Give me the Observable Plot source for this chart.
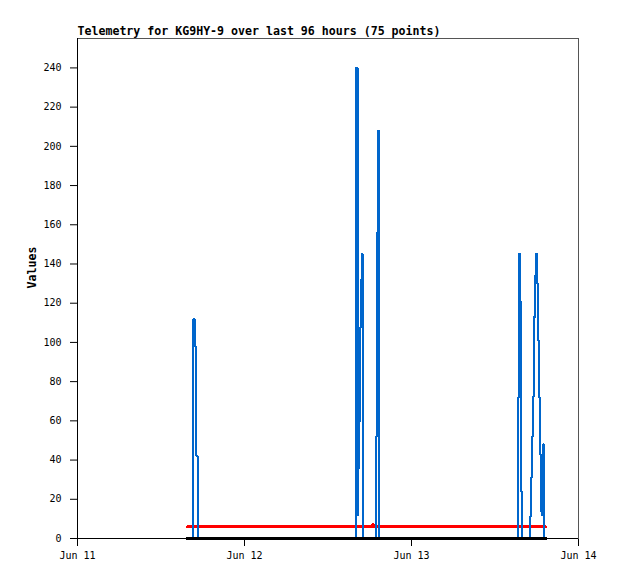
<!DOCTYPE html>
<html><head><meta charset="utf-8">
<script src="https://cdn.jsdelivr.net/npm/d3@7"></script>
<script src="https://cdn.jsdelivr.net/npm/@observablehq/plot@0.6"></script>
<style>body{margin:0;background:#fff} svg{display:block}</style>
</head><body><div id="chart"></div>
<script>
const title = "Telemetry for KG9HY-9 over last 96 hours (75 points)";
const yLabel = "Values";
const xTicks = ["2023-06-11", "2023-06-12", "2023-06-13", "2023-06-14"];
const yTicks = [0, 20, 40, 60, 80, 100, 120, 140, 160, 180, 200, 220, 240];
// hours since Jun 11 00:00
const hours = [15.81,
  16.60, 16.67, 16.82, 16.96, 17.10, 17.25, 17.35,
  28.0,
  39.95, 40.03, 40.24, 40.36, 40.46, 40.57, 40.67, 40.77, 40.86, 40.96,
  42.30, 42.40, 42.50,
  42.83, 42.93, 43.04, 43.16, 43.30, 43.40,
  52.0,
  63.24, 63.35, 63.45, 63.57, 63.67, 63.81,
  64.89, 64.96, 65.11, 65.25, 65.39, 65.54, 65.64, 65.75, 65.90, 66.04, 66.16, 66.26, 66.40, 66.54, 66.69, 66.79, 66.91, 67.05,
  67.26];
const blue = [0,
  0, 112, 98, 70, 42, 14, 0,
  0,
  0, 240, 12, 36, 60, 84, 108, 132, 145, 0,
  0, 0, 0,
  0, 52, 156, 208, 96, 0,
  0,
  0, 72, 145, 121, 24, 0,
  0, 11, 31, 52, 72, 93, 113, 134, 145, 130, 101, 72, 43, 14, 41, 12, 48, 0,
  0];
const red = [6,
  6, 6, 6, 6, 6, 6, 6,
  6,
  6, 6, 6, 6, 6, 6, 6, 6, 6, 6,
  6, 7, 6,
  6, 6, 6, 6, 6, 6,
  6,
  6, 6, 6, 6, 6, 6,
  6, 6, 6, 6, 6, 6, 6, 6, 6, 6, 6, 6, 6, 6, 6, 6, 6, 6,
  6];
const black = [0,
  0, 0, 0, 0, 0, 0, 0,
  0,
  0, 0, 0, 0, 0, 0, 0, 0, 0, 0,
  0, 0, 0,
  0, 0, 0, 0, 0, 0,
  0,
  0, 0, 0, 0, 0, 0,
  0, 0, 0, 0, 0, 0, 0, 0, 0, 0, 0, 0, 0, 0, 0, 0, 0, 0,
  0];

const base = Date.UTC(2023, 5, 11);
const rows = hours.map((h, i) => ({t: new Date(base + h * 3600e3), blue: blue[i], red: red[i], black: black[i]}));
const xDates = xTicks.map(d => new Date(d + "T00:00:00Z"));

const plot = Plot.plot({
  width: 618, height: 579,
  marginLeft: 77, marginRight: 40, marginTop: 38, marginBottom: 41,
  style: {fontFamily: "'DejaVu Sans Mono', monospace", fontSize: "10px", background: "#fff", color: "#000"},
  x: {type: "utc", domain: [xDates[0], xDates[3]], ticks: xDates, tickFormat: d3.utcFormat("%b %d"), tickSize: 8, tickPadding: 5, label: null},
  y: {domain: [0, 255], ticks: yTicks, tickSize: 7, tickPadding: 9, label: null},
  marks: [
    Plot.frame({stroke: "#555", strokeWidth: 1}),
    Plot.lineY(rows, {x: "t", y: "red", stroke: "#ff0000", strokeWidth: 3, curve: "step-after", shapeRendering: "crispEdges"}),
    Plot.lineY(rows, {x: "t", y: "blue", stroke: "#0066cc", strokeWidth: 2, curve: "step-after", shapeRendering: "crispEdges"}),
    Plot.lineY(rows, {x: "t", y: "black", stroke: "#000", strokeWidth: 3, curve: "step-after", shapeRendering: "crispEdges"}),
    Plot.ruleY([0], {stroke: "#000", strokeWidth: 1}),
    Plot.ruleX([xDates[0]], {stroke: "#000", strokeWidth: 1}),
    Plot.text([title], {frameAnchor: "top-left", lineAnchor: "bottom", dy: -4, fontWeight: "bold", fontSize: 11.6, textAnchor: "start"}),
    Plot.text([yLabel], {frameAnchor: "left", rotate: -90, dx: -45, fontWeight: "bold", fontSize: 11.6})
  ]
});
document.getElementById("chart").appendChild(plot);
</script>
</body></html>
